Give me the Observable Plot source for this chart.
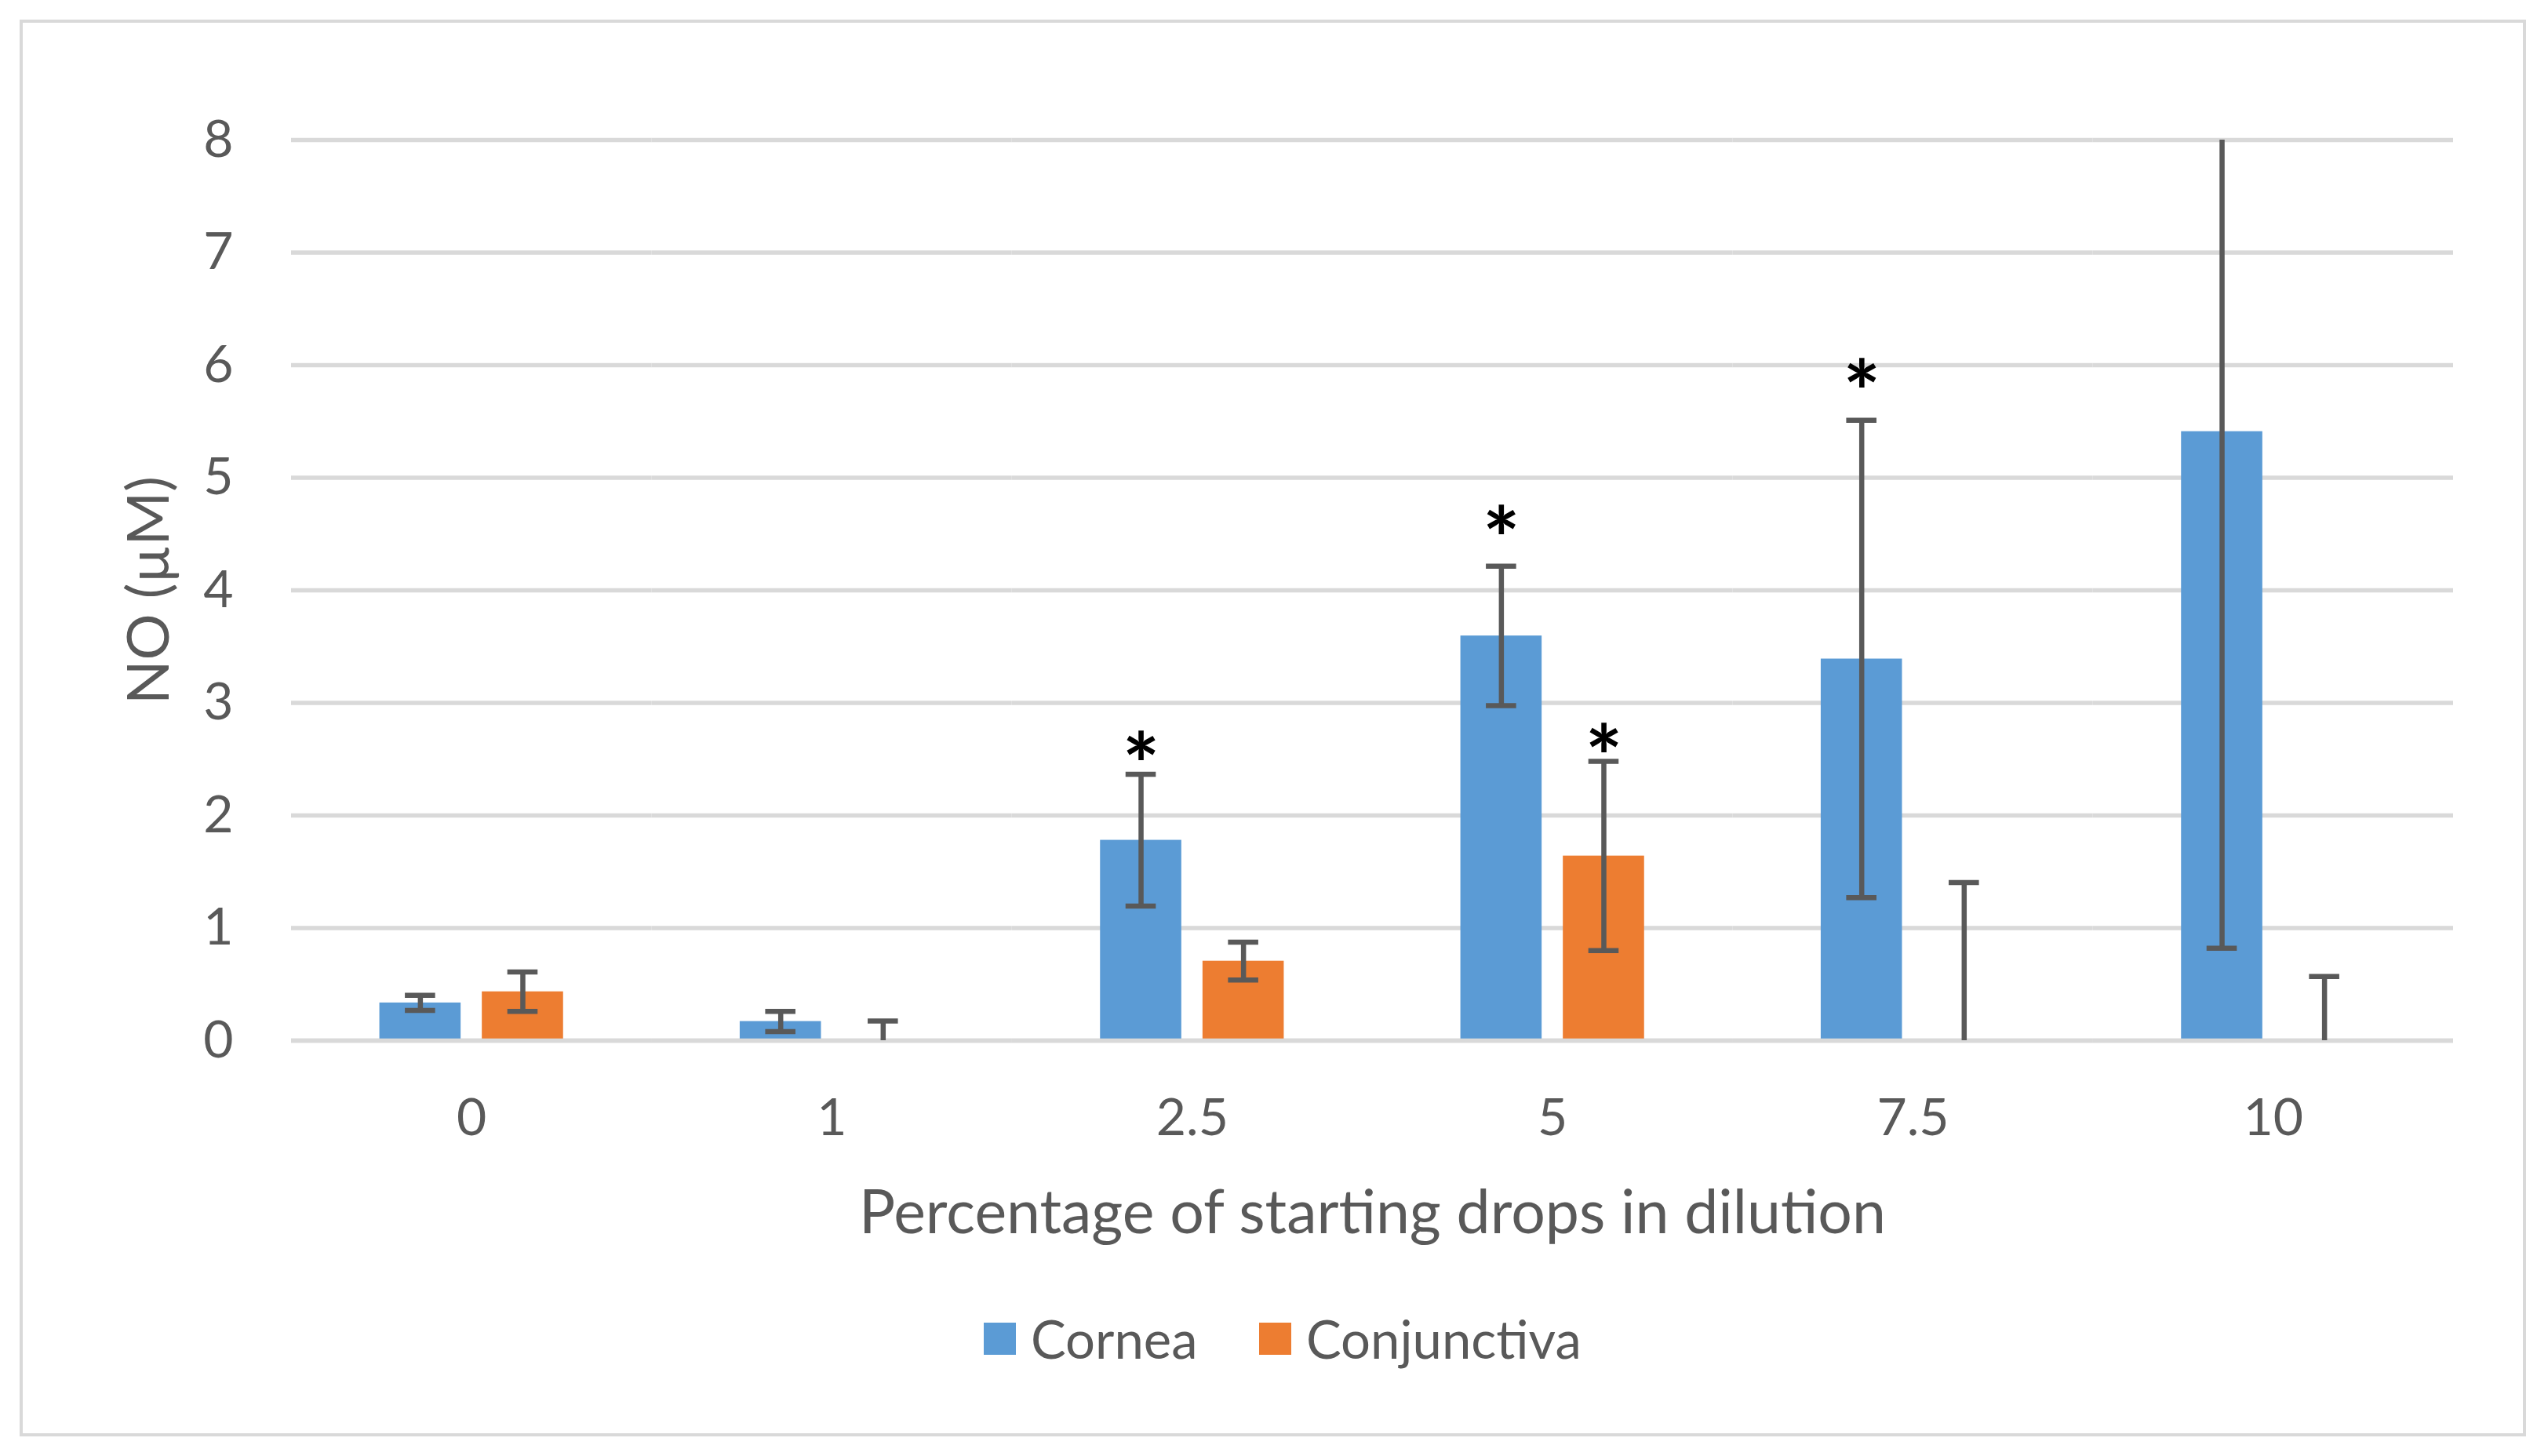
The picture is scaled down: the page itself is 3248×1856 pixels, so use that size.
<!DOCTYPE html>
<html>
<head>
<meta charset="utf-8">
<script src="https://cdn.jsdelivr.net/npm/d3@7"></script>
<script src="https://cdn.jsdelivr.net/npm/@observablehq/plot@0.6"></script>
<style>
  html, body { margin: 0; padding: 0; background: #ffffff; }
  #wrap { position: relative; width: 3248px; height: 1856px; background: #ffffff; overflow: hidden; }
  #frame { position: absolute; left: 25px; top: 25px; width: 3195px; height: 1806px; box-sizing: border-box; border: 4px solid #D9D9D9; }
  #chart { position: absolute; left: 0; top: 0; }
  #legend { position: absolute; left: 1254px; top: 1666px; }
  .lg-swatches { font-family: Lato, sans-serif !important; font-size: 67px !important; color: #595959 !important; line-height: 80px !important; margin: 0 !important; min-height: 0 !important; }
  .lg-swatch { margin-right: 0 !important; line-height: 80px !important; }
  .lg-swatch:first-of-type { width: 351px; }
  .lg-swatch > svg { margin-right: 19px !important; }
</style>
</head>
<body>
<div id="wrap">
  <div id="frame"></div>
  <div id="chart"></div>
  <div id="legend"></div>
</div>
<script>
// ---- data ----
const categories = ["0", "1", "2.5", "5", "7.5", "10"];
const seriesNames = ["Cornea", "Conjunctiva"];
const seriesColors = ["#5B9BD5", "#ED7D31"];
const corneaValues = [0.335, 0.17, 1.78, 3.595, 3.39, 5.41];
const corneaErrors = [0.067, 0.09, 0.585, 0.62, 2.12, 4.59];
const conjValues = [0.434, 0, 0.706, 1.64, 0, 0];
const conjErrors = [0.175, 0.175, 0.168, 0.84, 1.405, 0.57];
const yTicks = [0, 1, 2, 3, 4, 5, 6, 7, 8];
const yMax = 8;
const sigCategories = ["2.5", "5", "5", "7.5"];
const sigSeries = ["Cornea", "Cornea", "Conjunctiva", "Cornea"];
const sigY = [2.63, 4.635, 2.70, 5.94];
const xTitle = "Percentage of starting drops in dilution";
const yTitle = "NO (µM)";

// ---- tables ----
const rows = categories.flatMap((c, i) => [
  {cat: c, series: "Cornea", value: corneaValues[i], err: corneaErrors[i]},
  {cat: c, series: "Conjunctiva", value: conjValues[i], err: conjErrors[i]}
]);
const caps = rows.flatMap(d =>
  [d.value - d.err, d.value + d.err]
    .filter(v => v > 0 && v < yMax)
    .map(v => ({cat: d.cat, series: d.series, v}))
);
const sig = sigCategories.map((c, i) => ({cat: c, series: sigSeries[i], y: sigY[i]}));

const errColor = "#595959";

const chart = Plot.plot({
  width: 3248,
  height: 1600,
  marginTop: 178,
  marginLeft: 371,
  marginRight: 121,
  marginBottom: 274,
  style: {fontFamily: "Lato, sans-serif", fontSize: "66px", color: "#595959", background: "transparent", overflow: "visible"},
  fx: {domain: categories, padding: 0, round: false},
  x: {domain: seriesNames, paddingInner: 0.207, paddingOuter: 0.862, round: false, axis: null},
  y: {domain: [0, yMax]},
  color: {domain: seriesNames, range: seriesColors},
  marks: [
    Plot.gridY({ticks: yTicks, stroke: "#D9D9D9", strokeOpacity: 1, strokeWidth: 5.5}),
    Plot.barY(rows, {fx: "cat", x: "series", y: "value", fill: "series"}),
    Plot.ruleY([0], {stroke: "#D9D9D9", strokeWidth: 5.5}),
    Plot.ruleX(rows, {
      fx: "cat", x: "series",
      y1: d => Math.max(0, d.value - d.err),
      y2: d => Math.min(yMax, d.value + d.err),
      stroke: errColor, strokeWidth: 6.5
    }),
    Plot.tickY(caps, {fx: "cat", x: "series", y: "v", stroke: errColor, strokeWidth: 6.5, insetLeft: 32.5, insetRight: 32.5}),
    Plot.text(sig, {fx: "cat", x: "series", y: "y", text: () => "*", fontSize: 112, fontWeight: "bold", fill: "#000000", dy: 31}),
    Plot.axisY({ticks: yTicks, tickSize: 0, tickPadding: 74, label: null, fontSize: 66, fill: "#595959"}),
    Plot.axisY({ticks: [], tickSize: 0, label: yTitle, labelAnchor: "center", labelOffset: 209, labelArrow: "none", fontSize: 74, fill: "#595959"}),
    Plot.axisFx({anchor: "bottom", tickSize: 0, tickPadding: 74, label: null, fontSize: 66, fill: "#595959"}),
    Plot.axisFx({anchor: "bottom", ticks: [], tickSize: 0, label: xTitle, labelAnchor: "center", labelOffset: 245, fontSize: 77, fill: "#595959"})
  ]
});
document.getElementById("chart").appendChild(chart);

const legend = Plot.legend({
  color: {type: "ordinal", domain: seriesNames, range: seriesColors},
  swatchSize: 41,
  className: "lg"
});
document.getElementById("legend").appendChild(legend);
</script>
</body>
</html>
